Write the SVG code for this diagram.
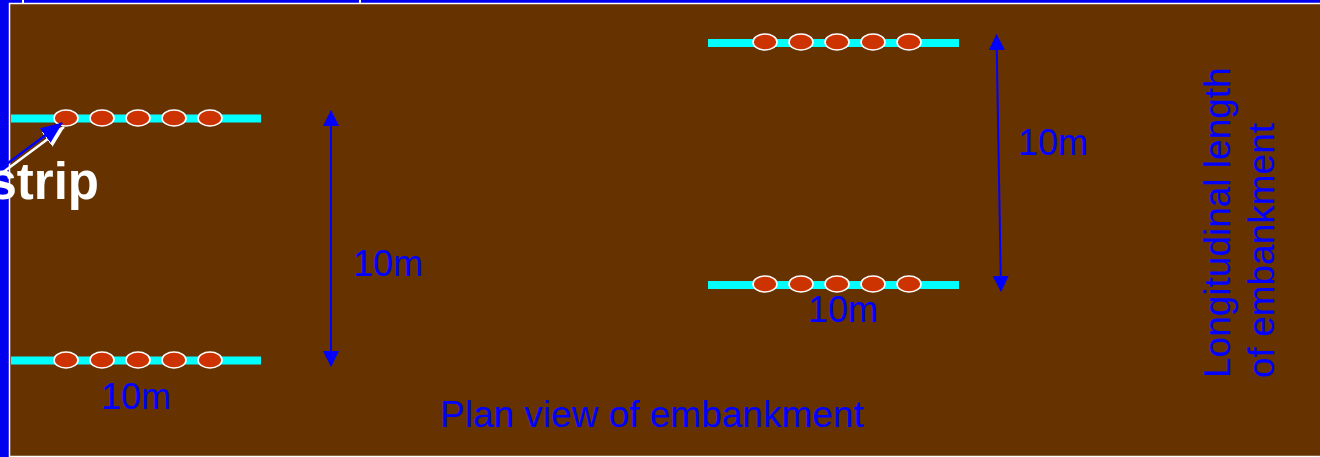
<svg xmlns="http://www.w3.org/2000/svg" width="1320" height="457" viewBox="0 0 1320 457">
  <defs>
    <style>
      .strip { stroke: #00FFFF; stroke-width: 8; fill: none; }
      .anchor { fill: #CC3300; stroke: #FFFFFF; stroke-width: 1.6; }
      .dim { stroke: #0000FF; stroke-width: 2; fill: none; marker-start: url(#head); marker-end: url(#head); }
      .lbl { font-family: "Liberation Sans", Arial, sans-serif; font-size: 36px; fill: #0000FF; }
      .big { font-size: 37px; }
    </style>
    <marker id="head" viewBox="0 0 16 16" refX="15" refY="8" markerWidth="16" markerHeight="16" markerUnits="userSpaceOnUse" orient="auto-start-reverse">
      <path d="M0,0 L16,8 L0,16 Z" fill="#0000FF"/>
    </marker>
    <marker id="head2" viewBox="0 0 22 18" refX="21" refY="9" markerWidth="22" markerHeight="18" markerUnits="userSpaceOnUse" orient="auto">
      <path d="M0,0 L22,9 L0,18 Z" fill="#0000FF"/>
    </marker>
    <marker id="head2s" viewBox="0 0 22 18" refX="21" refY="9" markerWidth="22" markerHeight="18" markerUnits="userSpaceOnUse" orient="auto">
      <path d="M0,0 L22,9 L0,18 Z" fill="#FFFFFF"/>
    </marker>
  </defs>

  <!-- frame -->
  <rect x="0" y="0" width="1320" height="457" fill="#0000EE"/>
  <rect x="22" y="0" width="2" height="5" fill="#FFFFFF"/>
  <rect x="359" y="0" width="2" height="5" fill="#FFFFFF"/>
  <rect x="9.5" y="3.5" width="1312" height="453" fill="#663300" stroke="#FFFFFF" stroke-width="1.5"/>

  <g id="strip-left-top">
    <line class="strip" x1="11" y1="118.5" x2="261" y2="118.5"/>
    <ellipse class="anchor" cx="66" cy="118" rx="12" ry="8"/>
    <ellipse class="anchor" cx="102" cy="118" rx="12" ry="8"/>
    <ellipse class="anchor" cx="138" cy="118" rx="12" ry="8"/>
    <ellipse class="anchor" cx="174" cy="118" rx="12" ry="8"/>
    <ellipse class="anchor" cx="210" cy="118" rx="12" ry="8"/>
  </g>

  <g id="strip-left-bottom">
    <line class="strip" x1="11" y1="360.5" x2="261" y2="360.5"/>
    <ellipse class="anchor" cx="66" cy="360" rx="12" ry="8"/>
    <ellipse class="anchor" cx="102" cy="360" rx="12" ry="8"/>
    <ellipse class="anchor" cx="138" cy="360" rx="12" ry="8"/>
    <ellipse class="anchor" cx="174" cy="360" rx="12" ry="8"/>
    <ellipse class="anchor" cx="210" cy="360" rx="12" ry="8"/>
    <text class="lbl" x="101" y="409">10m</text>
  </g>

  <g id="strip-right-top">
    <line class="strip" x1="708" y1="43" x2="959" y2="43"/>
    <ellipse class="anchor" cx="765" cy="42" rx="12" ry="8"/>
    <ellipse class="anchor" cx="801" cy="42" rx="12" ry="8"/>
    <ellipse class="anchor" cx="837" cy="42" rx="12" ry="8"/>
    <ellipse class="anchor" cx="873" cy="42" rx="12" ry="8"/>
    <ellipse class="anchor" cx="909" cy="42" rx="12" ry="8"/>
  </g>

  <g id="strip-right-bottom">
    <line class="strip" x1="708" y1="285" x2="959" y2="285"/>
    <ellipse class="anchor" cx="765" cy="284" rx="12" ry="8"/>
    <ellipse class="anchor" cx="801" cy="284" rx="12" ry="8"/>
    <ellipse class="anchor" cx="837" cy="284" rx="12" ry="8"/>
    <ellipse class="anchor" cx="873" cy="284" rx="12" ry="8"/>
    <ellipse class="anchor" cx="909" cy="284" rx="12" ry="8"/>
    <text class="lbl" x="808" y="322">10m</text>
  </g>

  <g id="connectors">
    <line class="dim" x1="331" y1="111" x2="331" y2="366"/>
    <line class="dim" x1="996.5" y1="35" x2="1001" y2="291"/>
    <line x1="2" y1="173" x2="64" y2="127" stroke="#FFFFFF" stroke-width="2.5" marker-end="url(#head2s)"/>
    <line x1="0" y1="169" x2="62" y2="123" stroke="#0000FF" stroke-width="2.5" marker-end="url(#head2)"/>
  </g>

  <g id="labels">
    <text class="lbl" x="353" y="276">10m</text>
    <text class="lbl" x="1018" y="155">10m</text>
    <text class="lbl big" x="440" y="427">Plan view of embankment</text>
    <text class="lbl big" transform="translate(1230,378) rotate(-90)"><tspan x="0" y="0">Longitudinal length</tspan><tspan x="0" y="44">of embankment</tspan></text>
    <text x="99" y="199" text-anchor="end" font-family="'Liberation Sans', Arial, sans-serif" font-weight="bold" font-size="51" fill="#FFFFFF">strip</text>
  </g>
</svg>
